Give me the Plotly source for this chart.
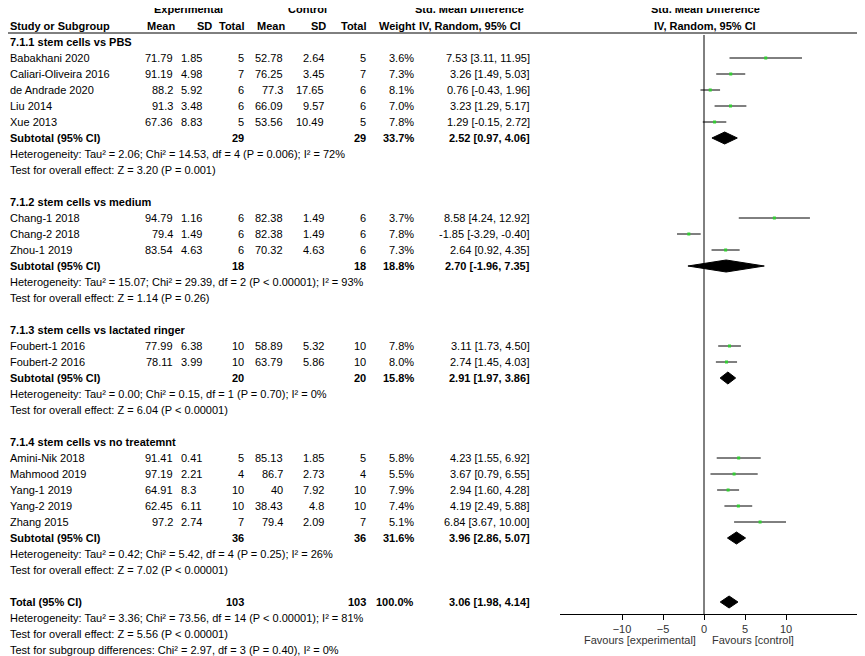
import plotly.graph_objects as go

W, H = 865, 656

groups = ["7.1.1 stem cells vs PBS", "7.1.2 stem cells vs medium",
          "7.1.3 stem cells vs lactated ringer", "7.1.4 stem cells vs no treatemnt"]
studies = [
    ["Babakhani 2020", "Caliari-Oliveira 2016", "de Andrade 2020", "Liu 2014", "Xue 2013"],
    ["Chang-1 2018", "Chang-2 2018", "Zhou-1 2019"],
    ["Foubert-1 2016", "Foubert-2 2016"],
    ["Amini-Nik 2018", "Mahmood 2019", "Yang-1 2019", "Yang-2 2019", "Zhang 2015"],
]
exp_mean = [[71.79, 91.19, 88.2, 91.3, 67.36], [94.79, 79.4, 83.54], [77.99, 78.11], [91.41, 97.19, 64.91, 62.45, 97.2]]
exp_sd = [["1.85", "4.98", "5.92", "3.48", "8.83"], ["1.16", "1.49", "4.63"], ["6.38", "3.99"], ["0.41", "2.21", "8.3", "6.11", "2.74"]]
exp_n = [[5, 7, 6, 6, 5], [6, 6, 6], [10, 10], [5, 4, 10, 10, 7]]
ctl_mean = [[52.78, 76.25, 77.3, 66.09, 53.56], [82.38, 82.38, 70.32], [58.89, 63.79], [85.13, 86.7, 40, 38.43, 79.4]]
ctl_sd = [["2.64", "3.45", "17.65", "9.57", "10.49"], ["1.49", "1.49", "4.63"], ["5.32", "5.86"], ["1.85", "2.73", "7.92", "4.8", "2.09"]]
ctl_n = [[5, 7, 6, 6, 5], [6, 6, 6], [10, 10], [5, 4, 10, 10, 7]]
weight = [["3.6%", "7.3%", "8.1%", "7.0%", "7.8%"], ["3.7%", "7.8%", "7.3%"], ["7.8%", "8.0%"], ["5.8%", "5.5%", "7.9%", "7.4%", "5.1%"]]
smd = [[7.53, 3.26, 0.76, 3.23, 1.29], [8.58, -1.85, 2.64], [3.11, 2.74], [4.23, 3.67, 2.94, 4.19, 6.84]]
lo = [[3.11, 1.49, -0.43, 1.29, -0.15], [4.24, -3.29, 0.92], [1.73, 1.45], [1.55, 0.79, 1.60, 2.49, 3.67]]
hi = [[11.95, 5.03, 1.96, 5.17, 2.72], [12.92, -0.40, 4.35], [4.50, 4.03], [6.92, 6.55, 4.28, 5.88, 10.00]]
ci_text = [["7.53 [3.11, 11.95]", "3.26 [1.49, 5.03]", "0.76 [-0.43, 1.96]", "3.23 [1.29, 5.17]", "1.29 [-0.15, 2.72]"],
           ["8.58 [4.24, 12.92]", "-1.85 [-3.29, -0.40]", "2.64 [0.92, 4.35]"],
           ["3.11 [1.73, 4.50]", "2.74 [1.45, 4.03]"],
           ["4.23 [1.55, 6.92]", "3.67 [0.79, 6.55]", "2.94 [1.60, 4.28]", "4.19 [2.49, 5.88]", "6.84 [3.67, 10.00]"]]

sub_n = [29, 18, 20, 36]
sub_w = ["33.7%", "18.8%", "15.8%", "31.6%"]
sub_est = [2.52, 2.70, 2.91, 3.96]
sub_lo = [0.97, -1.96, 1.97, 2.86]
sub_hi = [4.06, 7.35, 3.86, 5.07]
sub_ci = ["2.52 [0.97, 4.06]", "2.70 [-1.96, 7.35]", "2.91 [1.97, 3.86]", "3.96 [2.86, 5.07]"]
sub_het = ["Heterogeneity: Tau² = 2.06; Chi² = 14.53, df = 4 (P = 0.006); I² = 72%",
           "Heterogeneity: Tau² = 15.07; Chi² = 29.39, df = 2 (P < 0.00001); I² = 93%",
           "Heterogeneity: Tau² = 0.00; Chi² = 0.15, df = 1 (P = 0.70); I² = 0%",
           "Heterogeneity: Tau² = 0.42; Chi² = 5.42, df = 4 (P = 0.25); I² = 26%"]
sub_test = ["Test for overall effect: Z = 3.20 (P = 0.001)", "Test for overall effect: Z = 1.14 (P = 0.26)",
            "Test for overall effect: Z = 6.04 (P < 0.00001)", "Test for overall effect: Z = 7.02 (P < 0.00001)"]

tot_n = 103
tot_est, tot_lo, tot_hi = 3.06, 1.98, 4.14
tot_ci = "3.06 [1.98, 4.14]"
tot_lines = ["Heterogeneity: Tau² = 3.36; Chi² = 73.56, df = 14 (P < 0.00001); I² = 81%",
             "Test for overall effect: Z = 5.56 (P < 0.00001)",
             "Test for subgroup differences: Chi² = 2.97, df = 3 (P = 0.40), I² = 0%"]

ticks = [-10, -5, 0, 5, 10]

# layout in page pixels (page body has an 8px margin)
OFF = 8
ROW0, DY = 42, 16.0
X0PX, PXU = 704, 8.2
xr = [(560 - X0PX) / PXU, (857 - X0PX) / PXU]

fig = go.Figure()
ann = []
FONT = "Liberation Sans, Arial, sans-serif"


def txt(px, y, s, anchor="left", bold=False, color="#000"):
    ann.append(dict(x=(px - OFF) / W, xref="paper", y=y, yref="y", text=f"<b>{s}</b>" if bold else s,
                    xanchor=anchor, yanchor="middle", showarrow=False, borderpad=0,
                    font=dict(family=FONT, size=11, color=color)))


def rowy(k):
    return ROW0 + DY * k


def diamond(est, l, h, y):
    fig.add_trace(go.Scatter(x=[l, est, h, est, l], y=[y, y - 6, y, y + 6, y], mode="lines",
                             fill="toself", fillcolor="black", line=dict(color="black", width=1),
                             hoverinfo="skip", showlegend=False))


# column right edges
C_MEAN1, C_SD1, C_N1, C_MEAN2, C_SD2, C_N2, C_W, C_CI = 174, 180, 245, 284, 325, 367, 415, 531

txt(188, 9, "Experimental", "center", True)
txt(307, 9, "Control", "center", True)
txt(470, 9, "Std. Mean Difference", "center", True)
txt(705, 9, "Std. Mean Difference", "center", True)
hy = 26
txt(9, hy, "Study or Subgroup", bold=True)
for px, s in [(C_MEAN1 + 2, "Mean"), (213, "SD"), (C_N1, "Total"), (C_MEAN2 + 2, "Mean"),
              (C_SD2 + 2, "SD"), (C_N2, "Total"), (C_W + 2, "Weight")]:
    txt(px, hy, s, "right", True)
txt(470, hy, "IV, Random, 95% CI", "center", True)
txt(705, hy, "IV, Random, 95% CI", "center", True)

k = 0
for g in range(len(groups)):
    txt(9, rowy(k), groups[g], bold=True)
    k += 1
    ys = []
    for i in range(len(studies[g])):
        y = rowy(k)
        ys.append(y)
        txt(9, y, studies[g][i])
        txt(C_MEAN1, y, f"{exp_mean[g][i]:g}", "right")
        txt(C_SD1, y, exp_sd[g][i], "left")
        txt(C_N1, y, str(exp_n[g][i]), "right")
        txt(C_MEAN2, y, f"{ctl_mean[g][i]:g}", "right")
        txt(C_SD2, y, ctl_sd[g][i], "right")
        txt(C_N2, y, str(ctl_n[g][i]), "right")
        txt(C_W, y, weight[g][i], "right")
        txt(C_CI, y, ci_text[g][i], "right")
        fig.add_trace(go.Scatter(x=[lo[g][i], hi[g][i]], y=[y, y], mode="lines",
                                 line=dict(color="black", width=1), hoverinfo="skip", showlegend=False))
        k += 1
    fig.add_trace(go.Scatter(x=smd[g], y=ys, mode="markers",
                             marker=dict(symbol="square", size=3, color="#33cc33", line=dict(width=0)),
                             showlegend=False))
    y = rowy(k)
    txt(9, y, "Subtotal (95% CI)", bold=True)
    txt(C_N1, y, str(sub_n[g]), "right", True)
    txt(C_N2, y, str(sub_n[g]), "right", True)
    txt(C_W, y, sub_w[g], "right", True)
    txt(C_CI, y, sub_ci[g], "right", True)
    diamond(sub_est[g], sub_lo[g], sub_hi[g], y)
    k += 1
    txt(9, rowy(k), sub_het[g])
    k += 1
    txt(9, rowy(k), sub_test[g])
    k += 2

y = rowy(k)
txt(9, y, "Total (95% CI)", bold=True)
txt(C_N1, y, str(tot_n), "right", True)
txt(C_N2, y, str(tot_n), "right", True)
txt(C_W, y, "100.0%", "right", True)
txt(C_CI, y, tot_ci, "right", True)
diamond(tot_est, tot_lo, tot_hi, y)
for j, s in enumerate(tot_lines):
    txt(9, rowy(k + 1 + j), s)

AXY = 614
txt(697, 640, "Favours [experimental]", "right", color="#333")
txt(711, 640, "Favours [control]", "left", color="#333")

shapes = [
    dict(type="line", xref="paper", yref="y", x0=0, x1=(860 - OFF) / W, y0=33, y1=33, line=dict(color="black", width=1)),
    dict(type="line", xref="x", yref="y", x0=0, x1=0, y0=35, y1=AXY, line=dict(color="black", width=1)),
]

fig.update_layout(
    width=W, height=H, margin=dict(l=0, r=0, t=0, b=0),
    plot_bgcolor="white", paper_bgcolor="white",
    annotations=ann, shapes=shapes, showlegend=False,
    xaxis=dict(domain=[(560 - OFF) / W, (857 - OFF) / W], range=xr, anchor="free",
               position=1 - (AXY - OFF) / H,
               showgrid=False, zeroline=False, showline=True, linecolor="black", linewidth=1,
               tickvals=ticks, ticks="outside", ticklen=5, tickcolor="black",
               tickfont=dict(family=FONT, size=11, color="#333")),
    yaxis=dict(domain=[0, 1], range=[H + OFF, OFF], visible=False),
)

fig.write_html("out.html")
